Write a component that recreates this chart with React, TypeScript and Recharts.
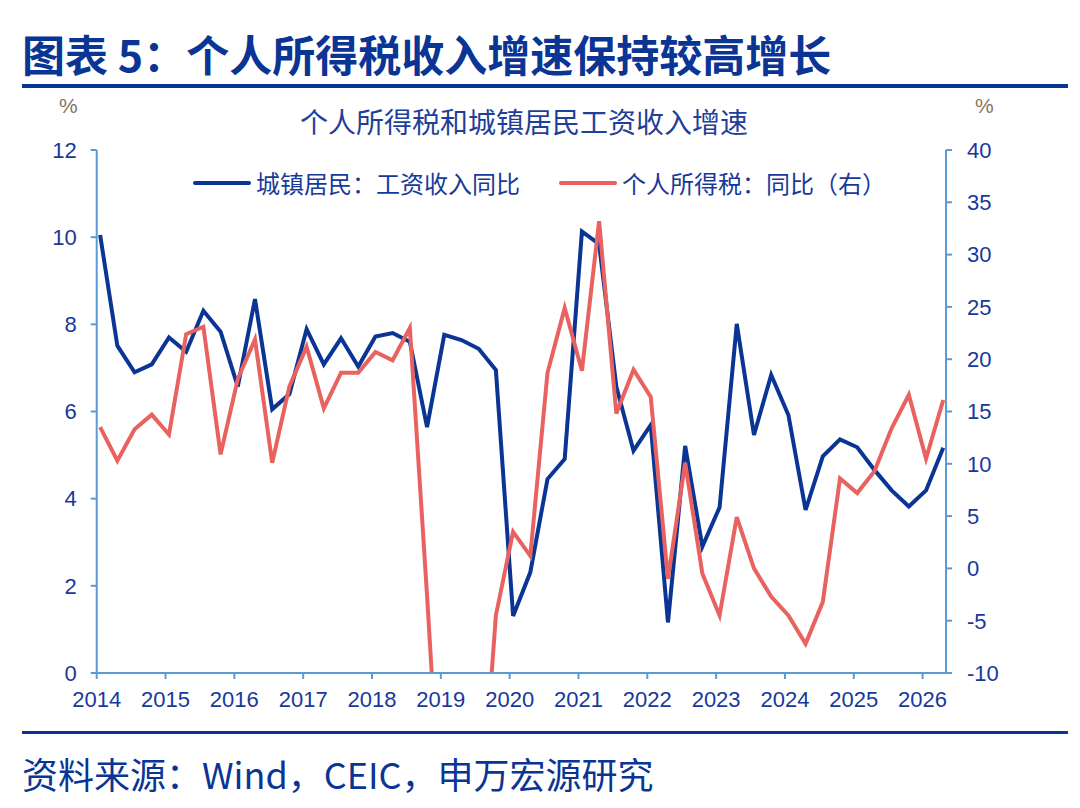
import React from 'react';
import { LineChart, Line, XAxis, YAxis } from 'recharts';

// quarterly observations, 2014Q1 .. 2026Q2
const years = [2014, 2015, 2016, 2017, 2018, 2019, 2020, 2021, 2022, 2023, 2024, 2025, 2026];
const quarters = years.flatMap((y) => [1, 2, 3, 4].map((q) => `${y}Q${q}`)).slice(0, 50);

// 城镇居民：工资收入同比 (left axis, %)
const wageYoY = [
  10.05, 7.51, 6.9, 7.08, 7.7, 7.37, 8.31, 7.83, 6.57, 8.58,
  6.05, 6.4, 7.89, 7.08, 7.68, 7.03, 7.72, 7.8, 7.6, 5.64,
  7.76, 7.64, 7.44, 6.95, 1.31, 2.31, 4.45, 4.91, 10.13, 9.84,
  6.57, 5.1, 5.69, 1.16, 5.21, 2.9, 3.8, 8.01, 5.46, 6.84,
  5.92, 3.74, 4.97, 5.36, 5.18, 4.66, 4.19, 3.82, 4.19, 5.17,
];

// 个人所得税：同比 (right axis, %)
const taxYoY = [
  13.5, 10.3, 13.3, 14.7, 12.8, 22.4, 23.1, 10.9, 18.1, 21.9,
  10.1, 17.4, 21.2, 15.3, 18.7, 18.7, 20.7, 19.9, 23.0, -2.6,
  -30, -31, -27, -4.5, 3.5, 1.2, 18.7, 24.9, 18.9, 33.2,
  14.8, 19.0, 16.4, -1.0, 10.1, -0.5, -4.5, 4.9, 0.0, -2.7,
  -4.5, -7.2, -3.2, 8.6, 7.2, 9.3, 13.4, 16.6, 10.5, 16.1,
];

const leftTicks = [0, 2, 4, 6, 8, 10, 12];
const rightTicks = [-10, -5, 0, 5, 10, 15, 20, 25, 30, 35, 40];

const data = quarters.map((label, i) => {
  const [y, q] = label.split('Q').map(Number);
  return { label, t: y + (q - 1) / 4 + 0.05, wage: wageYoY[i], tax: taxYoY[i] };
});

const BLUE = '#0a3594';
const RED = '#e8625f';
const AXIS = '#5b9bd5';
const TEXT = '#17399b';
const NUM_FONT = '"Liberation Sans", Arial, sans-serif';
const CJK_FONT = '"Noto Sans CJK SC", "Liberation Sans", sans-serif';

const tickStyle = { fill: TEXT, fontSize: 22, fontFamily: NUM_FONT };

const legendItem = (left: number, color: string, text: string) => (
  <div style={{ position: 'absolute', left, top: 165, display: 'flex', alignItems: 'center', fontFamily: CJK_FONT, fontSize: 24, color: TEXT, whiteSpace: 'nowrap' }}>
    <span style={{ display: 'inline-block', width: 58, height: 4, background: color, marginRight: 5, borderRadius: 2 }} />
    {text}
  </div>
);

export default function App() {
  return (
    <div style={{ position: 'absolute', left: 0, top: 0, width: 1080, height: 808, background: '#fff', overflow: 'hidden' }}>
      <div style={{ position: 'absolute', left: 22, top: 25, fontFamily: CJK_FONT, fontWeight: 700, fontSize: 43, color: BLUE, whiteSpace: 'nowrap', lineHeight: '56px' }}>
        图表 5：个人所得税收入增速保持较高增长
      </div>
      <div style={{ position: 'absolute', left: 22, top: 84, width: 1046, height: 4, background: BLUE }} />

      <div style={{ position: 'absolute', left: 0, width: 1048, top: 102, textAlign: 'center', fontFamily: CJK_FONT, fontSize: 28, color: '#1f3f99', lineHeight: '38px' }}>
        个人所得税和城镇居民工资收入增速
      </div>
      <div style={{ position: 'absolute', left: 59, top: 94, fontFamily: NUM_FONT, fontSize: 21, color: '#857565' }}>%</div>
      <div style={{ position: 'absolute', left: 975, top: 94, fontFamily: NUM_FONT, fontSize: 21, color: '#857565' }}>%</div>

      {legendItem(193, BLUE, '城镇居民：工资收入同比')}
      {legendItem(559, RED, '个人所得税：同比（右）')}

      <div style={{ position: 'absolute', left: 0, top: 0 }}>
        <LineChart width={1080} height={808} data={data} margin={{ top: 150, right: 64, bottom: 95, left: 36.7 }}>
          <XAxis
            dataKey="t"
            type="number"
            domain={[2014, 2026.34]}
            ticks={years}
            allowDataOverflow
            height={40}
            stroke={AXIS}
            strokeWidth={2}
            tickSize={6}
            tickMargin={12}
            tick={tickStyle}
            tickFormatter={(v: number) => String(Math.round(v))}
          />
          <YAxis
            yAxisId="left"
            domain={[0, 12]}
            ticks={leftTicks}
            width={60}
            stroke={AXIS}
            strokeWidth={2}
            tickSize={6}
            tickMargin={14}
            tick={tickStyle}
          />
          <YAxis
            yAxisId="right"
            orientation="right"
            domain={[-10, 40]}
            ticks={rightTicks}
            allowDataOverflow
            width={70}
            stroke={AXIS}
            strokeWidth={2}
            tickSize={6}
            tickMargin={15}
            tick={tickStyle}
          />
          <Line yAxisId="left" dataKey="wage" stroke={BLUE} strokeWidth={4} dot={false} isAnimationActive={false} />
          <Line yAxisId="right" dataKey="tax" stroke={RED} strokeWidth={4} dot={false} isAnimationActive={false} />
        </LineChart>
      </div>

      <div style={{ position: 'absolute', left: 22, top: 731, width: 1046, height: 3, background: BLUE }} />
      <div style={{ position: 'absolute', left: 22, top: 748, fontFamily: CJK_FONT, fontSize: 36, color: BLUE, whiteSpace: 'nowrap', lineHeight: '50px' }}>
        资料来源：Wind，CEIC，申万宏源研究
      </div>
    </div>
  );
}
